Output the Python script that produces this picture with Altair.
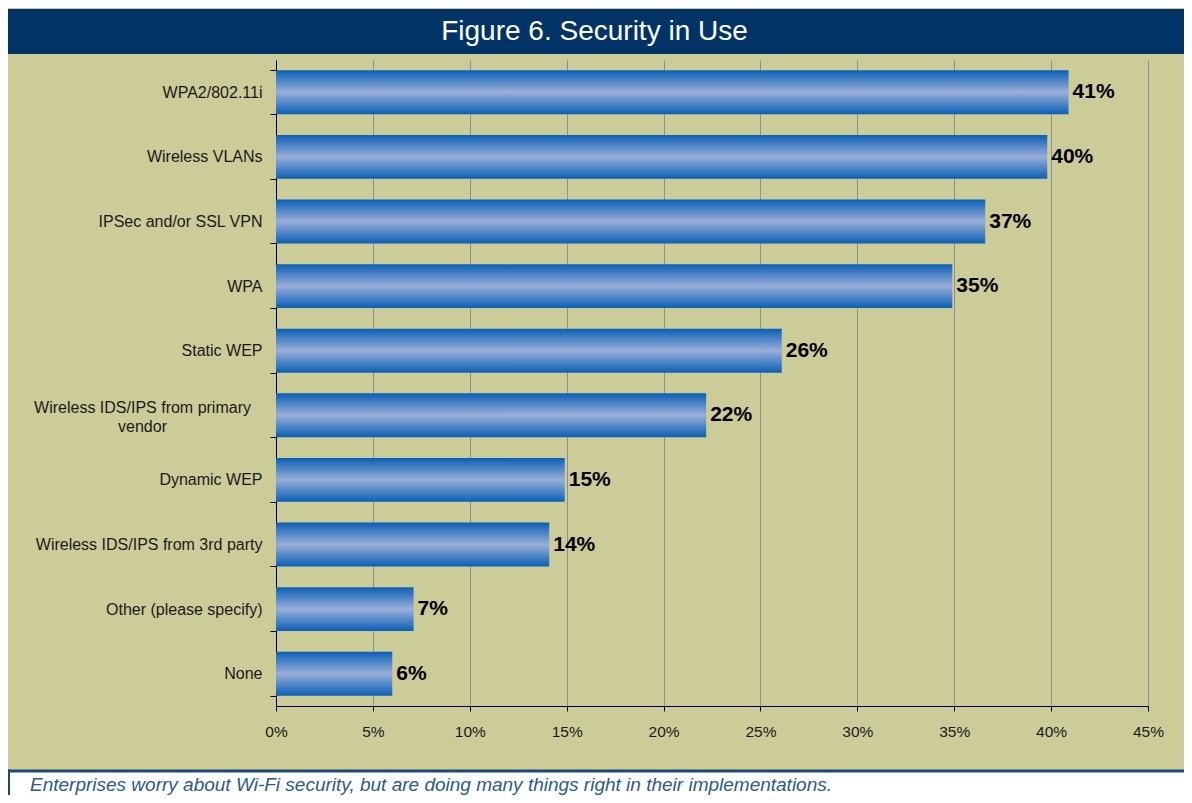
import altair as alt
import pandas as pd

categories = [
    "WPA2/802.11i",
    "Wireless VLANs",
    "IPSec and/or SSL VPN",
    "WPA",
    "Static WEP",
    "Wireless IDS/IPS from primary|vendor",
    "Dynamic WEP",
    "Wireless IDS/IPS from 3rd party",
    "Other (please specify)",
    "None",
]
values = [40.9, 39.8, 36.6, 34.9, 26.1, 22.2, 14.9, 14.1, 7.1, 6.0]
x_ticks = [0, 5, 10, 15, 20, 25, 30, 35, 40, 45]
title_text = "Figure 6. Security in Use"
footer_text = ("Enterprises worry about Wi-Fi security, but are doing many things "
               "right in their implementations.")

FONT = "Liberation Sans"
W, H = 872, 646
PAD_L, PAD_T, PAD_R, PAD_B = 268, 52, 36, 89

df = pd.DataFrame({"category": categories, "value": values})
one = alt.Data(values=[{"a": 1}])

gradient = alt.LinearGradient(
    gradient="linear",
    x1=0, y1=0, x2=0, y2=1,
    stops=[
        alt.GradientStop(color="#0a5fb6", offset=0),
        alt.GradientStop(color="#9aaed9", offset=0.5),
        alt.GradientStop(color="#0a5fb6", offset=1),
    ],
)

multi = "indexof(datum.label, '|') >= 0"

y_enc = alt.Y(
    "category:N",
    sort=categories,
    scale=alt.Scale(paddingInner=0.32, paddingOuter=0.16),
    axis=alt.Axis(
        title=None,
        tickBand="extent",
        domainColor="#000000",
        tickColor="#000000",
        tickSize=6,
        labelPadding={"condition": {"test": multi, "value": 128}, "value": 8},
        labelAlign={"condition": {"test": multi, "value": "center"}, "value": "right"},
        labelFontSize=16,
        labelFont=FONT,
        labelColor="#1a1a1a",
        labelLimit=400,
        labelLineHeight=19,
        labelExpr="split(datum.label, '|')",
        labelOffset={"condition": {"test": multi, "value": -8}, "value": 0},
        grid=False,
    ),
)
x_enc = alt.X(
    "value:Q",
    scale=alt.Scale(domain=[0, 45], nice=False, zero=True),
    axis=alt.Axis(
        title=None,
        values=x_ticks,
        labelExpr="datum.value + '%'",
        labelFontSize=15.5,
        labelFont=FONT,
        labelColor="#1a1a1a",
        labelPadding=13,
        labelFlush=False,
        domainColor="#000000",
        tickColor="#000000",
        tickSize=5,
        grid=True,
        gridColor="#8f8f8f",
        gridWidth=1,
    ),
)

bars = alt.Chart(df).mark_bar(color=gradient).encode(y=y_enc, x=x_enc)

labels = (
    alt.Chart(df)
    .transform_calculate(label="format(datum.value, '.0f') + '%'")
    .mark_text(align="left", baseline="middle", dx=4, fontSize=21,
               fontWeight="bold", font=FONT, color="#000000")
    .encode(y=alt.Y("category:N", sort=categories), x="value:Q", text="label:N")
)

title_bar = alt.Chart(one).mark_rect(color="#023366").encode(
    x=alt.value(-PAD_L), x2=alt.value(W + PAD_R), y=alt.value(-51), y2=alt.value(-6)
)
title_lbl = alt.Chart(one).mark_text(
    text=title_text, color="#ffffff", fontSize=28, font=FONT,
    align="center", baseline="alphabetic",
).encode(x=alt.value(318.5), y=alt.value(-20))

footer_bg = alt.Chart(one).mark_rect(color="#ffffff").encode(
    x=alt.value(-PAD_L), x2=alt.value(W + PAD_R), y=alt.value(711), y2=alt.value(H + PAD_B)
)
footer_line = alt.Chart(one).mark_rect(color="#1b4a7a").encode(
    x=alt.value(-PAD_L), x2=alt.value(W + PAD_R), y=alt.value(709.5), y2=alt.value(712.5)
)
footer_side = alt.Chart(one).mark_rect(color="#1b4a7a").encode(
    x=alt.value(-PAD_L), x2=alt.value(-PAD_L + 2), y=alt.value(709.5), y2=alt.value(H + PAD_B)
)
footer_lbl = alt.Chart(one).mark_text(
    text=footer_text, color="#2a5a90", fontSize=19, font=FONT, fontStyle="italic",
    align="left", baseline="alphabetic",
).encode(x=alt.value(-246), y=alt.value(731))

chart = (
    alt.layer(bars, labels, title_bar, title_lbl, footer_bg, footer_line, footer_side, footer_lbl)
    .properties(
        width=W,
        height=H,
        autosize="none",
        padding={"left": PAD_L, "top": PAD_T, "right": PAD_R, "bottom": PAD_B},
        background="#cccc99",
    )
    .configure_view(stroke=None)
)

chart.save("out.html", embed_options={"renderer": "svg", "actions": False})
